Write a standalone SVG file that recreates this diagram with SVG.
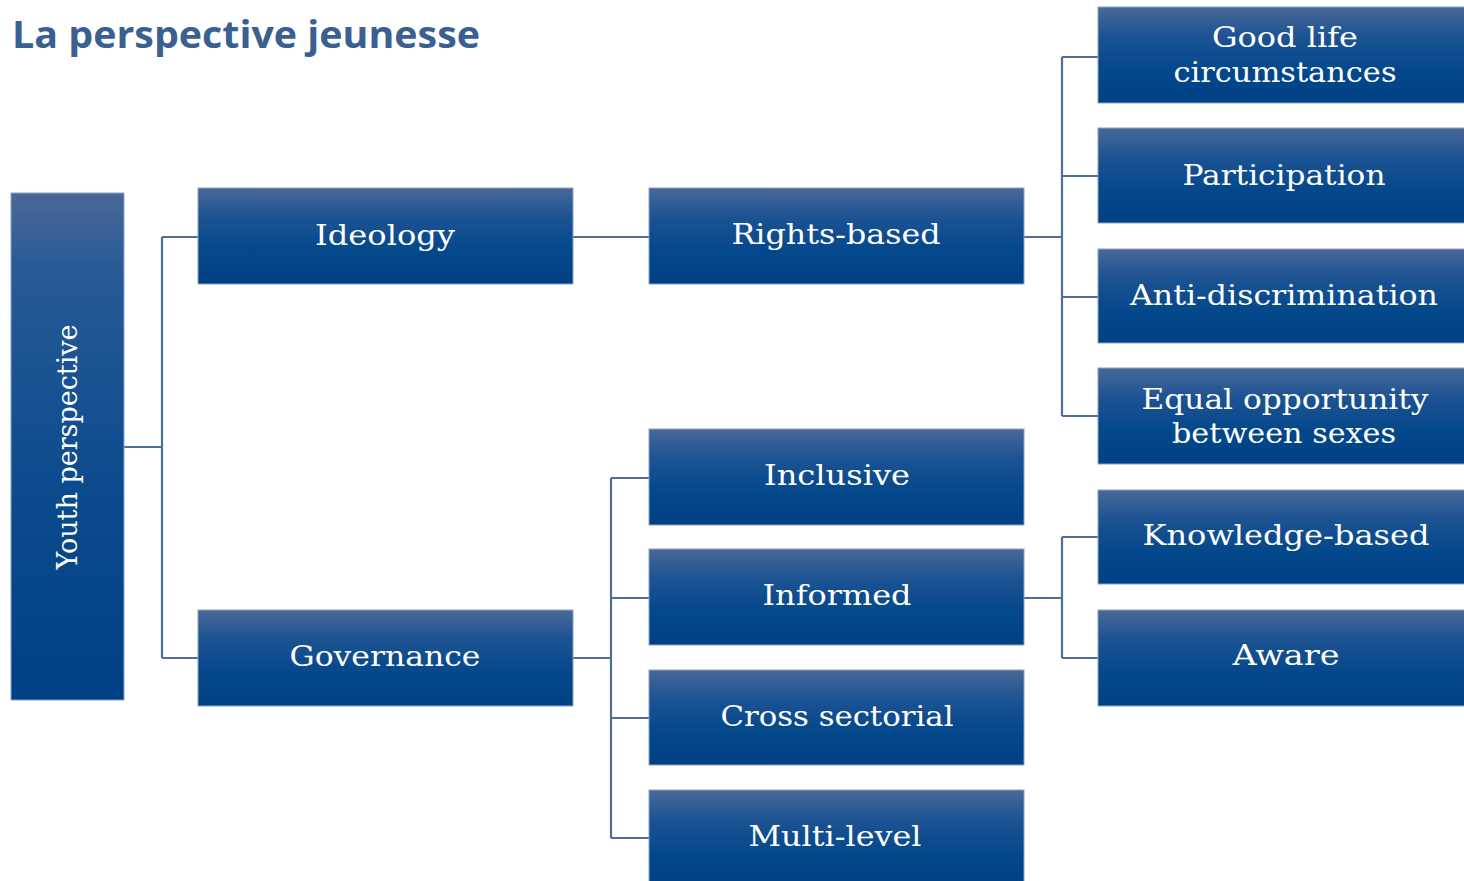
<svg xmlns="http://www.w3.org/2000/svg" width="1464" height="881" viewBox="0 0 1464 881">
<defs>
<linearGradient id="g" x1="0" y1="0" x2="0" y2="1">
<stop offset="0" stop-color="#4a6898"/>
<stop offset="0.3" stop-color="#1d5393"/>
<stop offset="0.65" stop-color="#04488c"/>
<stop offset="1" stop-color="#004084"/>
</linearGradient>
<linearGradient id="gv" x1="0" y1="0" x2="0" y2="1">
<stop offset="0" stop-color="#4a6898"/>
<stop offset="0.15" stop-color="#285a96"/>
<stop offset="0.6" stop-color="#0a4a8d"/>
<stop offset="1" stop-color="#004084"/>
</linearGradient>
<style>
.b{fill:url(#g);stroke:#8aa3c4;stroke-width:1}
.t{font-family:"DejaVu Serif","Liberation Serif",serif;font-size:27px;fill:#fff;text-anchor:middle}
.c{fill:none;stroke:#4d6f9a;stroke-width:2.2}
</style>
</defs>
<rect width="1464" height="881" fill="#fff"/>
<text x="12" y="48" font-family="'Open Sans','Noto Sans',sans-serif" font-weight="bold" font-size="38" fill="#3a6092" textLength="468" lengthAdjust="spacingAndGlyphs">La perspective jeunesse</text>
<g id="connectors">
<path class="c" d="M124 447H162M162 237V658M162 237H198M162 658H198"/>
<path class="c" d="M573 237H649"/>
<path class="c" d="M1024 237H1062M1062 57V416M1062 57H1098M1062 176H1098M1062 297H1098M1062 416H1098"/>
<path class="c" d="M573 658H611M611 478V838M611 478H649M611 598H649M611 718H649M611 838H649"/>
<path class="c" d="M1024 598H1062M1062 537V658M1062 537H1098M1062 658H1098"/>
</g>
<g id="youth"><rect x="11" y="193" width="113" height="507" fill="url(#gv)" stroke="#8aa3c4" stroke-width="1"/><text class="t" transform="translate(77,447) rotate(-90)" textLength="245" lengthAdjust="spacingAndGlyphs">Youth perspective</text></g>
<g id="ideology"><rect class="b" x="198" y="188" width="375" height="96"/><text class="t" x="385" y="245" textLength="140" lengthAdjust="spacingAndGlyphs">Ideology</text></g>
<g id="governance"><rect class="b" x="198" y="610" width="375" height="96"/><text class="t" x="385" y="666" textLength="191" lengthAdjust="spacingAndGlyphs">Governance</text></g>
<g id="rights"><rect class="b" x="649" y="188" width="375" height="96"/><text class="t" x="836" y="244" textLength="209" lengthAdjust="spacingAndGlyphs">Rights-based</text></g>
<g id="inclusive"><rect class="b" x="649" y="429" width="375" height="96"/><text class="t" x="837" y="485" textLength="146" lengthAdjust="spacingAndGlyphs">Inclusive</text></g>
<g id="informed"><rect class="b" x="649" y="549" width="375" height="96"/><text class="t" x="837" y="605" textLength="149" lengthAdjust="spacingAndGlyphs">Informed</text></g>
<g id="cross"><rect class="b" x="649" y="670" width="375" height="95"/><text class="t" x="837" y="726" textLength="233" lengthAdjust="spacingAndGlyphs">Cross sectorial</text></g>
<g id="multi"><rect class="b" x="649" y="790" width="375" height="96"/><text class="t" x="835" y="846" textLength="173" lengthAdjust="spacingAndGlyphs">Multi-level</text></g>
<g id="goodlife"><rect class="b" x="1098" y="7" width="370" height="96"/><text class="t" x="1285" y="47" textLength="146" lengthAdjust="spacingAndGlyphs">Good life</text><text class="t" x="1285" y="82" textLength="223" lengthAdjust="spacingAndGlyphs">circumstances</text></g>
<g id="participation"><rect class="b" x="1098" y="128" width="370" height="95"/><text class="t" x="1284" y="185" textLength="203" lengthAdjust="spacingAndGlyphs">Participation</text></g>
<g id="antidisc"><rect class="b" x="1098" y="249" width="370" height="94"/><text class="t" x="1284" y="305" textLength="308" lengthAdjust="spacingAndGlyphs">Anti-discrimination</text></g>
<g id="equal"><rect class="b" x="1098" y="368" width="370" height="96"/><text class="t" x="1285" y="409" textLength="287" lengthAdjust="spacingAndGlyphs">Equal opportunity</text><text class="t" x="1284" y="443" textLength="224" lengthAdjust="spacingAndGlyphs">between sexes</text></g>
<g id="knowledge"><rect class="b" x="1098" y="490" width="370" height="94"/><text class="t" x="1286" y="545" textLength="287" lengthAdjust="spacingAndGlyphs">Knowledge-based</text></g>
<g id="aware"><rect class="b" x="1098" y="610" width="370" height="96"/><text class="t" x="1286" y="665" textLength="107" lengthAdjust="spacingAndGlyphs">Aware</text></g>
</svg>
